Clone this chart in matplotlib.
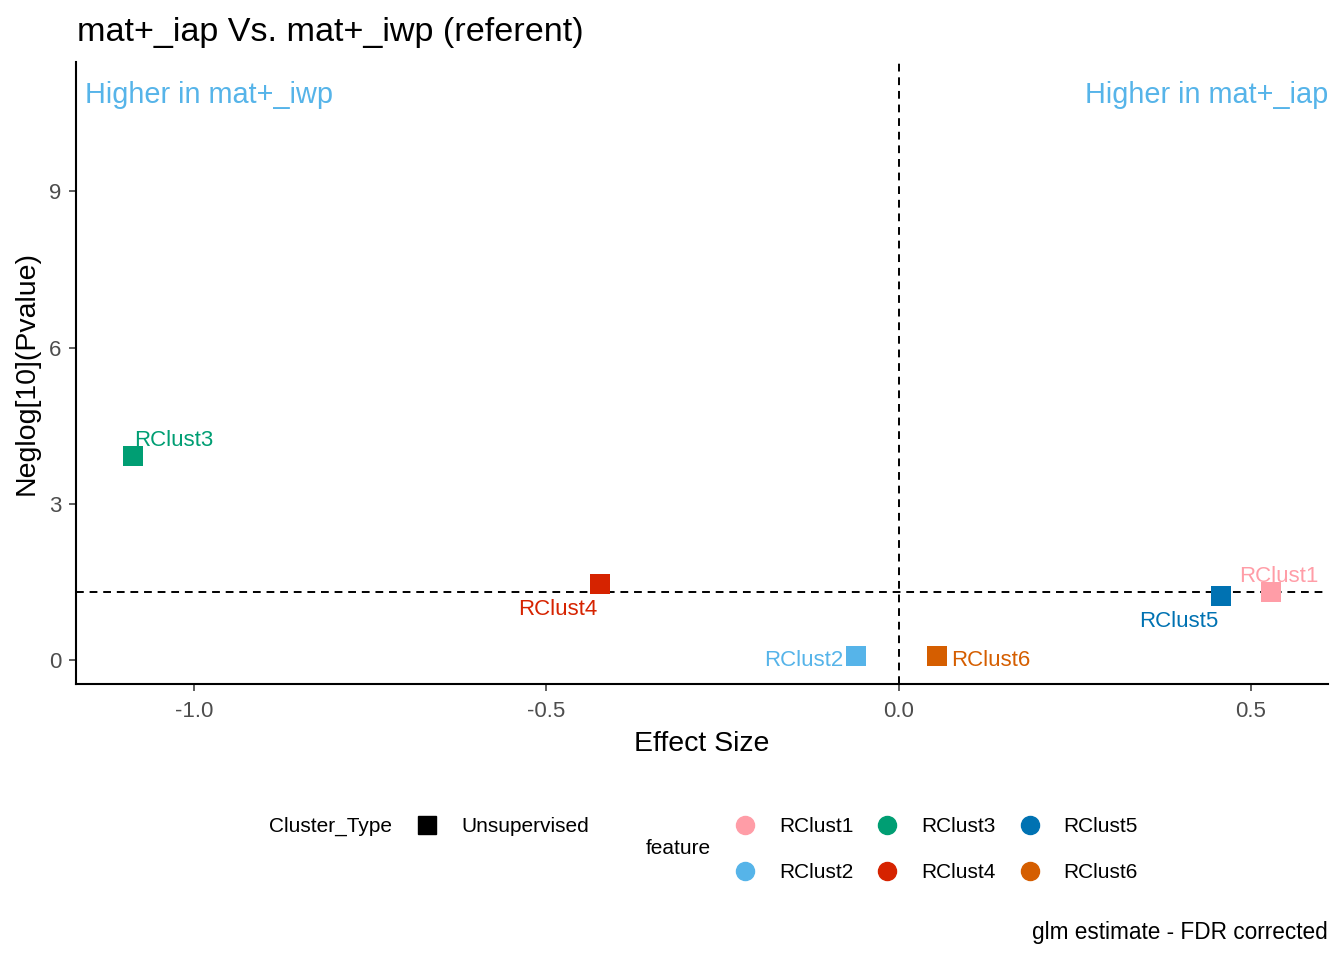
import matplotlib
matplotlib.use("Agg")
import matplotlib.pyplot as plt
from matplotlib.lines import Line2D

plt.rcParams['font.family'] = ['Liberation Sans', 'DejaVu Sans']

# ---- data ----
features = ["RClust1", "RClust2", "RClust3", "RClust4", "RClust5", "RClust6"]
effect_size = [0.529, -0.060, -1.087, -0.424, 0.457, 0.054]
neglog_p = [1.30, 0.07, 3.91, 1.46, 1.22, 0.07]
feature_colors = ["#FF9DA7", "#56B4E9", "#009E73", "#D62300", "#0072B2", "#D55E00"]
cluster_type = ["Unsupervised"]
x_ticks = [-1.0, -0.5, 0.0, 0.5]
y_ticks = [0, 3, 6, 9]
p_threshold = 1.301  # -log10(0.05)

# label offsets in pixels (dx, dy, ha), style/position only
label_offsets = {
    "RClust1": (-32.7, 10.0, "left"),
    "RClust2": (-13.4, -9.9, "right"),
    "RClust3": (1.3, 10.3, "left"),
    "RClust4": (-2.3, -31.0, "right"),
    "RClust5": (-2.7, -30.7, "right"),
    "RClust6": (13.9, -9.9, "left"),
}

W, H, DPI = 1344, 960, 100
fig = plt.figure(figsize=(W / DPI, H / DPI), dpi=DPI)
px = 72.0 / DPI

ax_l, ax_r, ax_b, ax_t = 76, 1328, 684.3, 62
ax = fig.add_axes([ax_l / W, 1 - ax_b / H, (ax_r - ax_l) / W, (ax_b - ax_t) / H])

ax.set_xlim(-1.1675, 0.6092)
ax.set_ylim(-0.467, 11.485)

ax.axhline(p_threshold, color="black", lw=1.4, linestyle=(0, (4, 3)), zorder=1)
ax.axvline(0, color="black", lw=1.4, linestyle=(0, (4, 3)), zorder=1)

for f, x, y, c in zip(features, effect_size, neglog_p, feature_colors):
    ax.plot([x], [y], marker="s", linestyle="none", color=c, markersize=13.7,
            markeredgewidth=0, zorder=3)
    dx, dy, ha = label_offsets[f]
    ax.annotate(f, (x, y), xytext=(dx * px, dy * px), textcoords="offset points",
                ha=ha, va="baseline", color=c, fontsize=16, zorder=4)

ax.text(0.0072, 0.947, "Higher in mat+_iwp", transform=ax.transAxes,
        ha="left", va="center", color="#56B4E9", fontsize=20.8)
ax.text(1.0, 0.947, "Higher in mat+_iap", transform=ax.transAxes,
        ha="right", va="center", color="#56B4E9", fontsize=20.8)

for s in ["top", "right"]:
    ax.spines[s].set_visible(False)
for s in ["left", "bottom"]:
    ax.spines[s].set_linewidth(1.5)
    ax.spines[s].set_color("black")

ax.set_xticks(x_ticks)
ax.set_xticklabels([f"{v:.1f}" for v in x_ticks])
ax.set_yticks(y_ticks)
ax.set_yticklabels([str(v) for v in y_ticks])
ax.tick_params(axis="both", length=5, width=1.1, color="#333333",
               labelcolor="#4D4D4D", labelsize=16)
ax.tick_params(axis="x", pad=7)
ax.tick_params(axis="y", pad=5.5)

ax.set_xlabel("Effect Size", fontsize=20.5, labelpad=6.7)
ax.set_ylabel("Neglog[10](Pvalue)", fontsize=20.5, labelpad=7)

fig.text(77 / W, 1 - 32 / H, "mat+_iap Vs. mat+_iwp (referent)", fontsize=24.6,
         ha="left", va="center")

# legends
fig.text(269 / W, 1 - 826 / H, "Cluster_Type", fontsize=15, ha="left", va="center")
h1 = [Line2D([], [], marker="s", linestyle="none", color="black", markersize=12.5)
      for _ in cluster_type]
leg1 = fig.legend(h1, cluster_type, loc="upper left",
                  bbox_to_anchor=(416.6 / W, 1 - 817 / H), frameon=False,
                  fontsize=15, handlelength=1.0, handletextpad=1.13,
                  borderpad=0, borderaxespad=0)

fig.text(646 / W, 1 - 849 / H, "feature", fontsize=15, ha="left", va="center")
h2 = [Line2D([], [], marker="o", linestyle="none", color=c, markersize=13)
      for c in feature_colors]
leg2 = fig.legend(h2, features, loc="upper left", ncol=3,
                  bbox_to_anchor=(734.6 / W, 1 - 817 / H), frameon=False,
                  fontsize=15, handlelength=1.0, handletextpad=1.13,
                  columnspacing=1.13, labelspacing=1.29,
                  borderpad=0, borderaxespad=0)

fig.text(1328 / W, 1 - 933 / H, "glm estimate - FDR corrected", fontsize=16.3,
         ha="right", va="center")

fig.savefig("out.png", dpi=DPI, facecolor="white")
